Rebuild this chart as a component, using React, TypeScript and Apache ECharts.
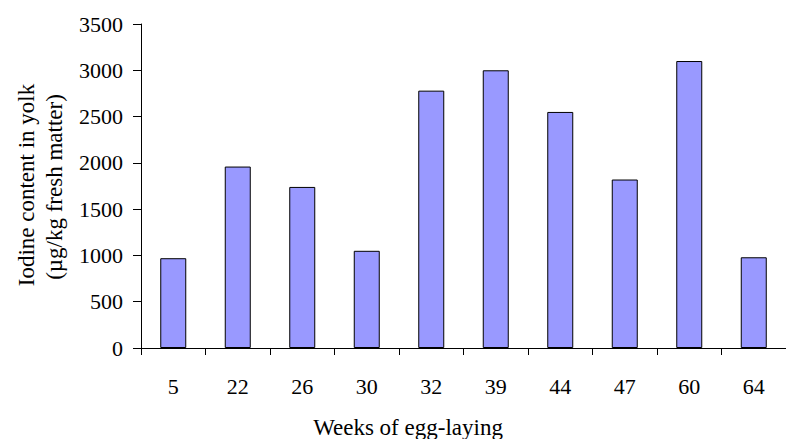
import React, { useEffect, useRef } from "react";
import * as echarts from "echarts";

const weeks = ["5", "22", "26", "30", "32", "39", "44", "47", "60", "64"];
const iodine = [970, 1960, 1740, 1050, 2780, 3000, 2550, 1820, 3100, 980];
const yTitle1 = "Iodine content in yolk";
const yTitle2 = "(µg/kg fresh matter)";
const xTitle = "Weeks of egg-laying";

const FONT = "'Liberation Serif', 'Times New Roman', serif";

export default function App() {
  const ref = useRef<HTMLDivElement>(null);
  useEffect(() => {
    document.body.style.margin = "0";
    if (!ref.current) return;
    const chart = echarts.init(ref.current, undefined, { renderer: "svg" });
    chart.setOption({
      animation: false,
      backgroundColor: "#fff",
      grid: { left: 141, top: 24, width: 648, height: 324 },
      xAxis: {
        type: "category",
        data: weeks,
        axisLine: { lineStyle: { color: "#000", width: 1 } },
        axisTick: { show: true, length: 7, inside: false, lineStyle: { color: "#000" } },
        axisLabel: { color: "#000", fontSize: 22, fontFamily: FONT, margin: 27 },
      },
      yAxis: {
        type: "value",
        min: 0,
        max: 3500,
        interval: 500,
        splitLine: { show: false },
        axisLine: { show: true, lineStyle: { color: "#000", width: 1 } },
        axisTick: { show: true, length: 8, lineStyle: { color: "#000" } },
        axisLabel: {
          color: "#000",
          fontSize: 22,
          fontFamily: FONT,
          margin: 18,
          formatter: (v: number) => String(v),
        },
      },
      series: [
        {
          type: "bar",
          data: iodine,
          barWidth: 26,
          itemStyle: { color: "#9999FF", borderColor: "#000", borderWidth: 1 },
        },
      ],
      graphic: [
        {
          type: "text",
          x: 26,
          y: 185,
          rotation: Math.PI / 2,
          style: {
            text: yTitle1,
            fill: "#000",
            font: `23px ${FONT}`,
            align: "center",
            verticalAlign: "middle",
          },
        },
        {
          type: "text",
          x: 54,
          y: 187,
          rotation: Math.PI / 2,
          style: {
            text: yTitle2,
            fill: "#000",
            font: `23px ${FONT}`,
            align: "center",
            verticalAlign: "middle",
          },
        },
        {
          type: "text",
          x: 408,
          y: 427,
          style: {
            text: xTitle,
            fill: "#000",
            font: `23px ${FONT}`,
            align: "center",
            verticalAlign: "middle",
          },
        },
      ],
    });
    return () => chart.dispose();
  }, []);
  return <div ref={ref} style={{ width: 786, height: 439 }} />;
}
